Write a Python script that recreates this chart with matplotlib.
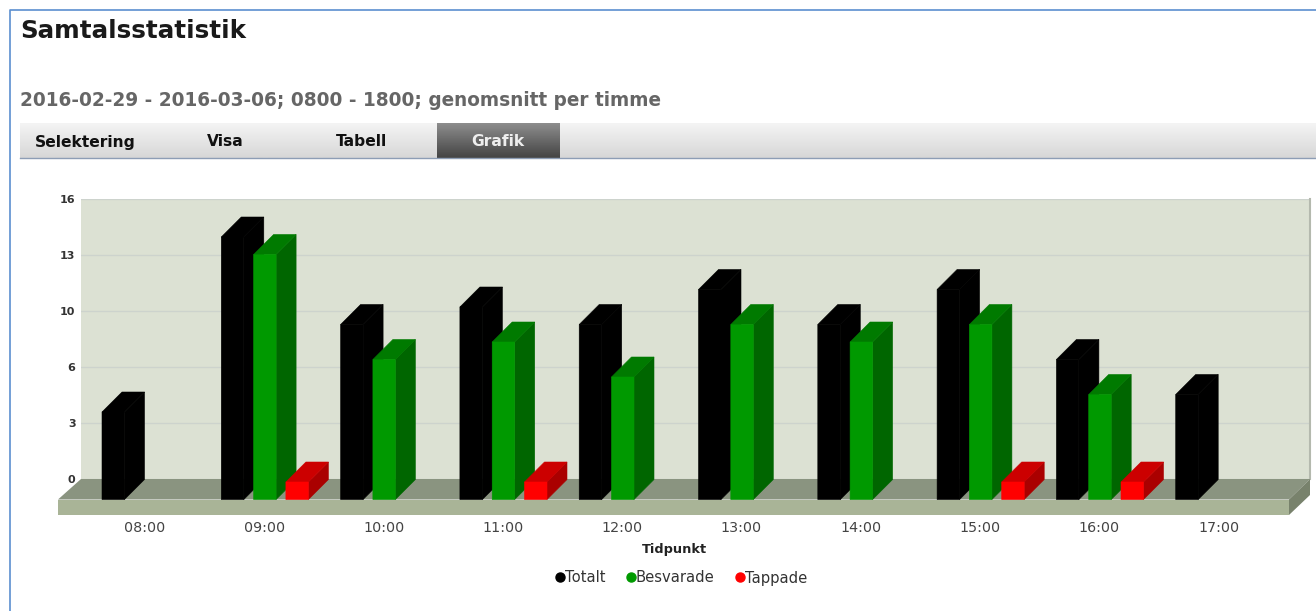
import matplotlib
matplotlib.use("Agg")
import matplotlib.pyplot as plt
from matplotlib.lines import Line2D
from matplotlib.patches import Polygon, Rectangle
import numpy as np

W, H = 1316, 611

hours = ["08:00", "09:00", "10:00", "11:00", "12:00", "13:00", "14:00", "15:00", "16:00", "17:00"]
totalt = [5, 15, 10, 11, 10, 12, 10, 12, 8, 6]
besvarade = [0, 14, 8, 9, 7, 10, 9, 10, 6, 0]
tappade = [0, 1, 0, 1, 0, 0, 0, 1, 1, 0]
y_ticks = [0, 3.2, 6.4, 9.6, 12.8, 16]
y_labels = ["0", "3", "6", "10", "13", "16"]

plt.rcParams["font.family"] = "DejaVu Sans"


def px_axes(fig, left, top, right, bottom):
    return fig.add_axes([left / W, 1 - bottom / H, (right - left) / W, (bottom - top) / H])


fig = plt.figure(figsize=(W / 100, H / 100), dpi=100)

# page around the chart, in pixel coords
page = fig.add_axes([0, 0, 1, 1])
page.set_xlim(0, W)
page.set_ylim(H, 0)
page.axis("off")
page.plot([10, 10, W], [H, 10, 10], color="#5b8fd0", lw=1.2)
page.text(20, 31, "Samtalsstatistik", fontsize=17.7, fontweight="bold", color="#1a1a1a", va="center")
page.text(20, 100, "2016-02-29 - 2016-03-06; 0800 - 1800; genomsnitt per timme",
          fontsize=13.35, fontweight="bold", color="#666666", va="center")

grad = np.linspace(1, 0, 30).reshape(-1, 1)
page.imshow(grad, extent=[20, W, 158, 123], aspect="auto", cmap="gray", vmin=-7.35, vmax=1.4, zorder=1)
page.imshow(grad, extent=[437, 560, 158, 123], aspect="auto", cmap="gray", vmin=-0.96, vmax=2.6, zorder=2)
page.plot([20, W], [158, 158], color="#8d9db5", lw=1, zorder=3)
page.set_xlim(0, W)
page.set_ylim(H, 0)
for name, x, col in [("Selektering", 85, "#111111"), ("Visa", 225, "#111111"),
                     ("Tabell", 361, "#111111"), ("Grafik", 498, "#eeeeee")]:
    page.text(x, 142, name, fontsize=11.2, fontweight="bold", color=col, ha="center", va="center", zorder=4)

# floor, in pixel coords too
page.add_patch(Polygon([(58, 499.5), (81, 479), (1310, 479), (1289, 499.5)], color="#8a9480", lw=0, zorder=2))
page.add_patch(Rectangle((58, 499.5), 1231, 15.5, color="#a9b497", lw=0, zorder=2))
page.add_patch(Polygon([(1289, 499.5), (1310, 479), (1310, 495), (1289, 515)], color="#78826c", lw=0, zorder=2))

# back wall with the value axis
wall = px_axes(fig, 81, 199, 1310, 479)
wall.set_facecolor("#dce1d3")
wall.set_xlim(0, 1)
wall.set_ylim(0, 16)
wall.set_xticks([])
wall.set_yticks(y_ticks, labels=y_labels, fontsize=8, fontweight="bold", color="#333333")
wall.tick_params(axis="y", length=0, pad=4)
wall.grid(axis="y", color="#cdd3cd", lw=1)
wall.set_axisbelow(True)
for s in ["top", "left", "bottom"]:
    wall.spines[s].set_visible(False)
wall.spines["right"].set_color("#b4b9ae")
wall.spines["right"].set_linewidth(1.5)
wall.set_zorder(1)
page.set_zorder(2)
page.patch.set_alpha(0)

# bars: front face sits on the front edge of the floor
ax = px_axes(fig, 58, 199, 1310, 515)
ax.set_zorder(3)
ax.patch.set_alpha(0)
group_px = 119.3
y_px = 17.5
ax.set_xlim((58 - 145) / group_px, (1310 - 145) / group_px)
ax.set_ylim(-15.5 / y_px, 300.5 / y_px)
for s in ax.spines.values():
    s.set_visible(False)
ax.set_yticks([])
ax.set_xticks(np.arange(len(hours)), labels=hours, fontsize=10.3, color="#444444")
ax.tick_params(axis="x", length=0, pad=4)
ax.set_xlabel("Tidpunkt", fontsize=9.3, fontweight="bold", color="#222222")
ax.xaxis.set_label_coords((674 - 58) / 1252, -28 / 316)

bar_w = 22.5 / group_px
dx = 20 / group_px
dy = 20 / y_px
step = 32.3 / group_px
first = -43 / group_px


def draw_bars(values, offset, front, top, side):
    for i, v in enumerate(values):
        if v == 0:
            continue
        x0 = i + first + offset
        x1 = x0 + bar_w
        # no snapping, otherwise a light seam shows between the faces
        ax.fill([x1, x1 + dx, x1 + dx, x1], [0, dy, v + dy, v], fc=side, ec=side, lw=0.4, snap=False)
        ax.fill([x0, x0 + dx, x1 + dx, x1], [v, v + dy, v + dy, v], fc=top, ec=top, lw=0.4, snap=False)
        ax.bar(x0, v, width=bar_w, align="edge", color=front, edgecolor=front, lw=0.4, snap=False)


draw_bars(totalt, 0, "#000000", "#000000", "#000000")
draw_bars(besvarade, step, "#009900", "#007a00", "#006600")
draw_bars(tappade, 2 * step, "#ff0000", "#cc0000", "#aa0000")

handles = [Line2D([], [], ls="", marker="o", ms=6.5, color=c) for c in ["#000000", "#009900", "#ff0000"]]
fig.legend(handles, ["Totalt", "Besvarade", "Tappade"], loc="center", bbox_to_anchor=(679 / W, 1 - 578 / H),
           ncol=3, frameon=False, fontsize=10.6, labelcolor="#333333", handletextpad=-0.25,
           columnspacing=1.1, handlelength=1.2)

fig.savefig("out.png", dpi=100)
